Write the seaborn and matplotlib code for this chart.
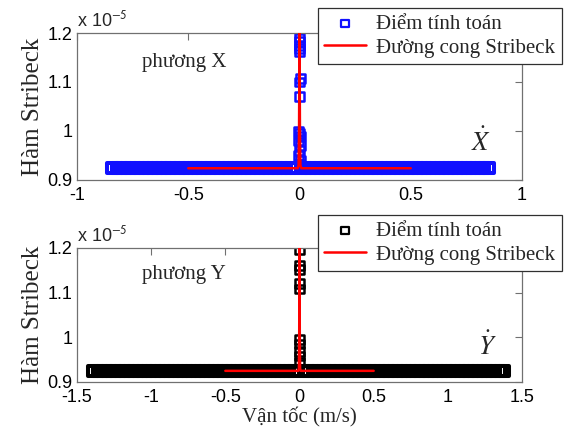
import matplotlib
matplotlib.use("Agg")
import matplotlib.pyplot as plt
import seaborn as sns
from matplotlib.ticker import FuncFormatter

# velocity samples (m/s) lying on the flat part of the curve
band_x_top = [-0.84, -0.82, -0.80, -0.78, -0.76, -0.74, -0.72, -0.70, -0.68, -0.66,
              -0.64, -0.62, -0.60, -0.58, -0.56, -0.54, -0.52, -0.50, -0.48, -0.46,
              -0.44, -0.42, -0.40, -0.38, -0.36, -0.34, -0.32, -0.30, -0.28, -0.26,
              -0.24, -0.22, -0.20, -0.18, -0.16, -0.14, -0.12, -0.10, -0.08, -0.06,
              -0.04, -0.02, 0.01, 0.03, 0.05, 0.07, 0.09, 0.11, 0.13, 0.15, 0.17,
              0.19, 0.21, 0.23, 0.25, 0.27, 0.29, 0.31, 0.33, 0.35, 0.37, 0.39, 0.41,
              0.43, 0.45, 0.47, 0.49, 0.51, 0.53, 0.55, 0.57, 0.59, 0.61, 0.63, 0.65,
              0.67, 0.69, 0.71, 0.73, 0.75, 0.77, 0.79, 0.81, 0.83, 0.85]
band_x_bot = [-1.39, -1.36, -1.33, -1.30, -1.27, -1.24, -1.21, -1.18, -1.15, -1.12,
              -1.09, -1.06, -1.03, -1.00, -0.97, -0.94, -0.91, -0.88, -0.85, -0.82,
              -0.79, -0.76, -0.73, -0.70, -0.67, -0.64, -0.61, -0.58, -0.55, -0.52,
              -0.49, -0.46, -0.43, -0.40, -0.37, -0.34, -0.31, -0.28, -0.25, -0.22,
              -0.19, -0.16, -0.13, -0.10, -0.07, -0.04, 0.03, 0.06, 0.09, 0.12, 0.15,
              0.18, 0.21, 0.24, 0.27, 0.30, 0.33, 0.36, 0.39, 0.42, 0.45, 0.48, 0.51,
              0.54, 0.57, 0.60, 0.63, 0.66, 0.69, 0.72, 0.75, 0.78, 0.81, 0.84, 0.87,
              0.90, 0.93, 0.96, 0.99, 1.02, 1.05, 1.08, 1.11, 1.14, 1.17, 1.20, 1.23,
              1.26, 1.29, 1.32, 1.35, 1.38]
band_g_top = 0.924e-5
band_g_bot = 0.925e-5

# points near zero velocity
zero_x_top = [0, 0, 0, 0, 0, 0.003, 0, 0, -0.004, 0, 0.004, -0.004, 0.004, 0, -0.003, 0.003, 0]
zero_g_top = [1.19e-5, 1.182e-5, 1.175e-5, 1.168e-5, 1.162e-5, 1.107e-5, 1.100e-5, 1.070e-5,
              1.0e-5, 0.995e-5, 0.99e-5, 0.98e-5, 0.97e-5, 0.96e-5, 0.95e-5, 0.94e-5, 0.932e-5]
zero_x_bot = [0, 0, 0, 0, 0, 0, 0, 0, 0, 0]
zero_g_bot = [1.197e-5, 1.16e-5, 1.152e-5, 1.12e-5, 1.108e-5, 0.995e-5, 0.985e-5,
              0.968e-5, 0.958e-5, 0.943e-5]

# Stribeck curve
curve_x = [-0.5, -0.008, -0.004, -0.002, 0.0, 0.002, 0.004, 0.008, 0.5]
curve_g_top = [0.924e-5, 0.924e-5, 0.93e-5, 1.0e-5, 1.2e-5, 1.0e-5, 0.93e-5, 0.924e-5, 0.924e-5]
curve_g_bot = [0.925e-5, 0.925e-5, 0.93e-5, 1.0e-5, 1.2e-5, 1.0e-5, 0.93e-5, 0.925e-5, 0.925e-5]

sns.set_style("white")
plt.rcParams['font.family'] = ['Liberation Sans', 'DejaVu Sans']
plt.rcParams['mathtext.fontset'] = 'stix'

W, H = 569, 433
fig = plt.figure(figsize=(W / 100, H / 100), dpi=100)
ax1 = fig.add_axes([77 / W, 1 - 180 / H, 445 / W, 147 / H])
ax2 = fig.add_axes([77 / W, 1 - 382 / H, 445 / W, 134 / H])

serif = ['Liberation Serif', 'DejaVu Serif']

panels = [
    (ax1, band_x_top, band_g_top, zero_x_top, zero_g_top, curve_g_top, '#1010ff',
     (-1, 1), [-1, -0.5, 0, 0.5, 1], 'phương X', r'$\dot{X}$', 0.885, 8),
    (ax2, band_x_bot, band_g_bot, zero_x_bot, zero_g_bot, curve_g_bot, 'black',
     (-1.5, 1.5), [-1.5, -1, -0.5, 0, 0.5, 1, 1.5], 'phương Y', r'$\dot{Y}$', 0.9, 215),
]

for ax, bx, bg, zx, zg, cg, col, xlim, xt, name, dot, dot_x, leg_y in panels:
    # dense band of calculated points
    sns.scatterplot(x=bx, y=[bg] * len(bx), marker='s', s=55, color=col, facecolors='none',
                    edgecolor=col, linewidth=2.9, ax=ax, label='Điểm tính toán', zorder=2)
    # points around zero velocity
    sns.scatterplot(x=zx, y=zg, marker='s', s=40, color=col, facecolors='none',
                    edgecolor=col, linewidth=1.8, ax=ax, label='_nolegend_', zorder=2)
    sns.lineplot(x=curve_x, y=cg, color='red', linewidth=1.8, sort=False,
                 estimator=None, ax=ax, label='Đường cong Stribeck', zorder=3)
    ax.set_xlim(*xlim)
    ax.set_ylim(0.9e-5, 1.2e-5)
    ax.set_xticks(xt)
    ax.set_yticks([0.9e-5, 1.0e-5, 1.1e-5, 1.2e-5])
    ax.xaxis.set_major_formatter(FuncFormatter(lambda v, p: '%g' % v))
    ax.yaxis.set_major_formatter(FuncFormatter(lambda v, p: '%g' % round(v * 1e5, 3)))
    ax.tick_params(direction='in', length=5, width=0.8, color='#707070',
                   top=True, right=True, labelsize=13, labelcolor='black')
    ax.tick_params(axis='x', pad=5)
    ax.tick_params(axis='y', pad=3)
    for sp in ax.spines.values():
        sp.set_color('#707070')
        sp.set_linewidth(0.9)
    ax.set_ylabel('Hàm Stribeck', family=serif, fontsize=18, labelpad=3)
    ax.text(0.146, 0.80, name, transform=ax.transAxes, family=serif, fontsize=15,
            va='center')
    ax.text(dot_x, 0.2, dot, transform=ax.transAxes, fontsize=19)
    ax.text(0.0, 1.02, r'x 10$^{\mathsf{-5}}$', transform=ax.transAxes, fontsize=13,
            va='bottom', ha='left')
    leg = ax.legend(loc='upper left', bbox_to_anchor=(318 / W, 1 - leg_y / H),
                    bbox_transform=fig.transFigure, borderaxespad=0, fancybox=False,
                    framealpha=1, edgecolor='#303030', prop={'family': serif, 'size': 15},
                    labelspacing=0.2, handlelength=2.0, borderpad=0.3, handletextpad=0.5)
    leg.get_frame().set_linewidth(0.9)
    mk = leg.legend_handles[0]
    mk.set_sizes([30])
    mk.set_linewidth(1.6)
    mk.set_facecolor('none')

ax2.set_xlabel('Vận tốc (m/s)', family=serif, fontsize=15, labelpad=1)

fig.savefig('out.png', dpi=100)
